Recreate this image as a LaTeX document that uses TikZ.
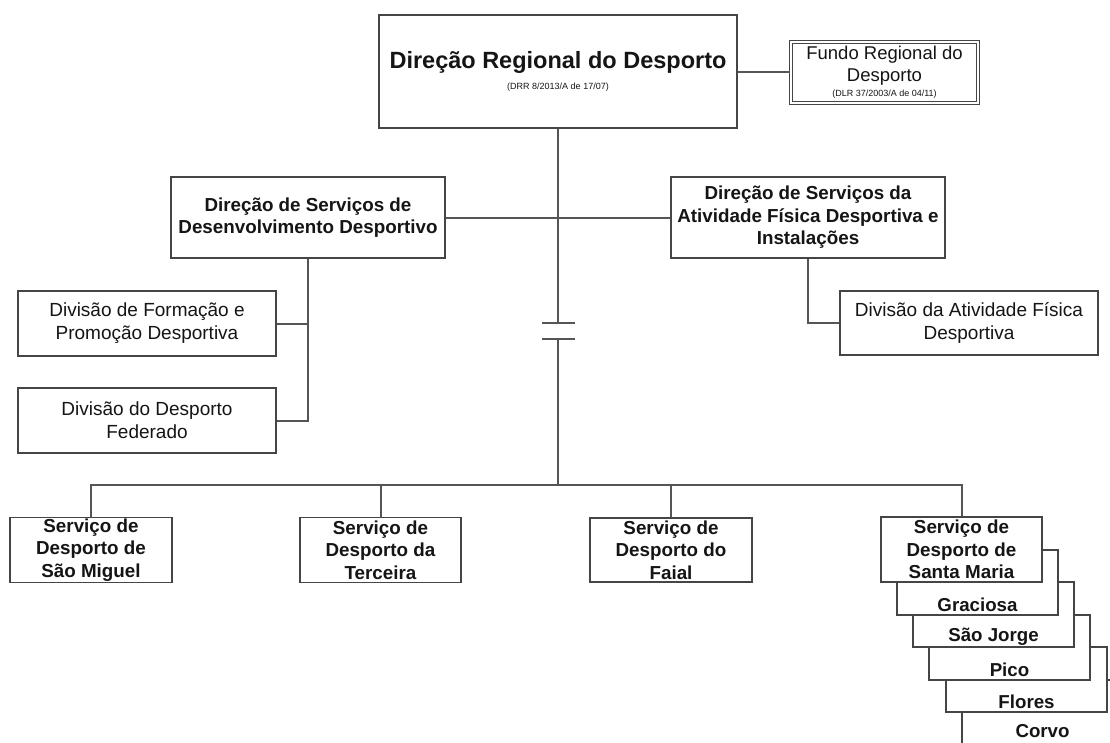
\documentclass[tikz,border=0pt]{standalone}
\usepackage{fontspec}
\setmainfont{Liberation Sans}
\usetikzlibrary{calc}
\definecolor{boxline}{HTML}{454545}
\definecolor{conline}{HTML}{555555}
\definecolor{txt}{HTML}{151515}
\begin{document}
\begin{tikzpicture}[x=1pt,y=-1pt,
  box/.style={draw=boxline,line width=1.8pt,fill=white,rectangle,inner sep=0pt,align=center,text=txt},
  con/.style={draw=conline,line width=2pt},
  bigtxt/.style={font=\fontsize{18.8}{22.5}\selectfont\bfseries},
  regtxt/.style={font=\fontsize{19}{23}\selectfont},
  stacktxt/.style={font=\fontsize{18.7}{20}\selectfont\bfseries,text=txt,inner sep=0pt}
]
\useasboundingbox (0,0) rectangle (1110,742);
\clip (0,0) rectangle (1110,742);

% top level
\node[box,minimum width=358pt,minimum height=113pt,font=\fontsize{23.5}{26}\selectfont] (drd) at (558,71.5)
  {{\bfseries Direção Regional do Desporto}\\[-5pt]{\fontsize{9}{10}\selectfont (DRR 8/2013/A de 17/07)}};
\node[box,draw=boxline,line width=1.1pt,double=white,double distance=2.2pt,minimum width=187pt,minimum height=61pt,font=\fontsize{18.5}{21.5}\selectfont] (frd) at (884.5,72.5)
  {Fundo Regional do\\Desporto\\[-6pt]{\fontsize{9}{10}\selectfont (DLR 37/2003/A de 04/11)}};

% second level
\node[box,bigtxt,minimum width=274pt,minimum height=81pt] (dsdd) at (308,217.5)
  {Direção de Serviços de\\Desenvolvimento Desportivo};
\node[box,bigtxt,minimum width=274pt,minimum height=81pt] (dsaf) at (808,217.5)
  {Direção de Serviços da\\Atividade Física Desportiva e\\Instalações};

% divisions
\node[box,regtxt,minimum width=258pt,minimum height=65pt] (dfpd) at (147,323.5)
  {Divisão de Formação e\\Promoção Desportiva};
\node[box,regtxt,minimum width=258pt,minimum height=65pt] (ddf) at (147,420.5)
  {Divisão do Desporto\\Federado};
\node[box,regtxt,minimum width=258pt,minimum height=64pt] (dafd) at (969,323)
  {Divisão da Atividade Física\\Desportiva};

% stacked island boxes (drawn back to front)
\node[box,minimum width=161pt,minimum height=65pt] (cor) at (1042.5,712.5) {};
\node[stacktxt] (cortxt) at ($(cor.south)+(0,-15)$) {Corvo};
\node[box,minimum width=161pt,minimum height=65pt] (flo) at (1026.5,679.5) {};
\node[stacktxt] (flotxt) at ($(flo.south)+(0,-11)$) {Flores};
\node[box,minimum width=161pt,minimum height=65pt] (pic) at (1009.5,647.5) {};
\node[stacktxt] (pictxt) at ($(pic.south)+(0,-11)$) {Pico};
\node[box,minimum width=161pt,minimum height=65pt] (sjo) at (993.5,614.5) {};
\node[stacktxt] (sjotxt) at ($(sjo.south)+(0,-11)$) {São Jorge};
\node[box,minimum width=161pt,minimum height=65pt] (gra) at (977.5,582.5) {};
\node[stacktxt] (gratxt) at ($(gra.south)+(0,-11)$) {Graciosa};

% bottom services
\node[box,bigtxt,minimum width=162pt,minimum height=65pt] (smg) at (91,550)
  {Serviço de\\Desporto de\\São Miguel};
\node[box,bigtxt,minimum width=161pt,minimum height=65pt] (ter) at (380.5,550)
  {Serviço de\\Desporto da\\Terceira};
\node[box,bigtxt,minimum width=162pt,minimum height=64pt] (fai) at (671,550)
  {Serviço de\\Desporto do\\Faial};
\node[box,bigtxt,minimum width=161pt,minimum height=65pt] (sma) at (961.5,549.5)
  {Serviço de\\Desporto de\\Santa Maria};

% connectors
\coordinate (brkA) at (558,323);
\coordinate (brkB) at (558,339);
\coordinate (bus) at (558,485);
\coordinate (barAl) at (542,323);
\coordinate (barAr) at (575,323);
\coordinate (barBl) at (542,339);
\coordinate (barBr) at (575,339);

\draw[con] (drd.south) -- (brkA);
\draw[con] (brkB) -- (bus);
\draw[con] (barAl) -- (barAr);
\draw[con] (barBl) -- (barBr);
\draw[con] (drd.east) -- (drd.east -| frd.west);
\draw[con] (dsdd.east) -- (dsdd.east -| drd.south);
\draw[con] (dsaf.west) -- (dsaf.west -| drd.south);
\draw[con] (dsdd.south) -- (dsdd.south |- ddf.east) -- (ddf.east);
\draw[con] (dfpd.east) -- (dfpd.east -| dsdd.south);
\draw[con] (dsaf.south) -- (dsaf.south |- dafd.west) -- (dafd.west);
\draw[con] (smg.north) -- (smg.north |- bus) -- (sma.north |- bus) -- (sma.north);
\draw[con] (ter.north) -- (ter.north |- bus);
\draw[con] (fai.north) -- (fai.north |- bus);
\end{tikzpicture}
\end{document}
